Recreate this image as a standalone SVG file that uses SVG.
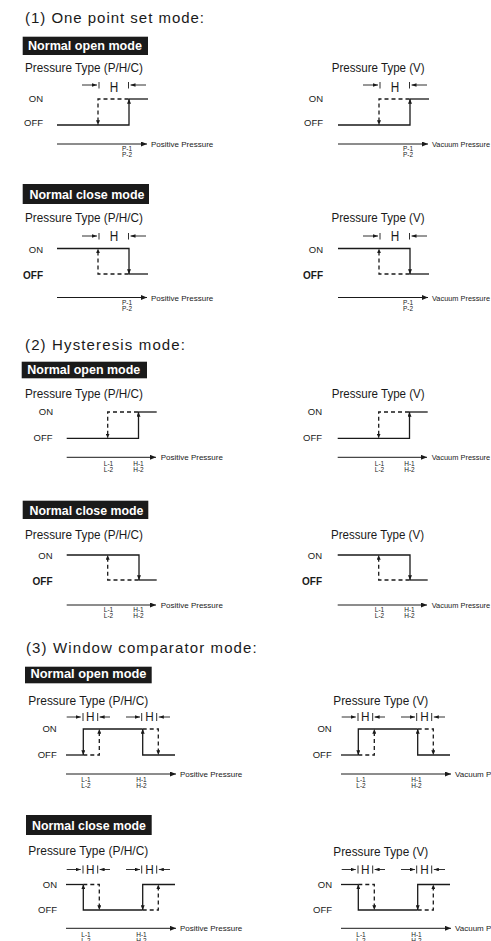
<svg xmlns="http://www.w3.org/2000/svg" width="491" height="941" viewBox="0 0 491 941">
<defs>
<style>
text{font-family:"Liberation Sans",Arial,Helvetica,sans-serif;fill:#1a1a1a}
.ttl{font-size:15px}
.hdr{font-size:13px;font-weight:bold;fill:#fff}
.box{fill:#1a1a1a}
.pt{font-size:13.5px}
.st{font-size:9.5px;text-anchor:end}
.stb{font-weight:bold;font-size:10px}
.hl{font-size:14px;text-anchor:middle}
.hs{font-size:12.5px;text-anchor:middle}
.axl{font-size:8px}
.axv{font-size:7.4px}
.tk{font-size:6.5px;text-anchor:middle}
.sig{stroke:#1a1a1a;stroke-width:1.3;fill:none}
.dash{stroke-dasharray:4 3}
.ax{stroke:#1a1a1a;stroke-width:1;fill:none}
.dim{stroke:#1a1a1a;stroke-width:0.9;fill:none}
</style>
<marker id="ta" viewBox="0 0 6 5" refX="6" refY="2.5" markerWidth="4.8" markerHeight="4" markerUnits="userSpaceOnUse" orient="auto"><path d="M0,0L6,2.5L0,5z" fill="#1a1a1a"/></marker>
<marker id="aa" viewBox="0 0 6 5" refX="6" refY="2.5" markerWidth="6" markerHeight="5" markerUnits="userSpaceOnUse" orient="auto"><path d="M0,0L6,2.5L0,5z" fill="#1a1a1a"/></marker>
<marker id="da" viewBox="0 0 7 5" refX="7" refY="2.5" markerWidth="5" markerHeight="3.6" markerUnits="userSpaceOnUse" orient="auto"><path d="M0,0L7,2.5L0,5z" fill="#1a1a1a"/></marker>
</defs>
<rect width="491" height="941" fill="#fff"/>

<!-- Section 1 -->
<g id="title-1"><text class="ttl" x="25" y="22.5" textLength="179" lengthAdjust="spacing">(1) One point set mode:</text></g>

<g id="s1-no-header"><rect class="box" x="22.7" y="36.7" width="125.3" height="18.3"/><text class="hdr" x="28" y="50" textLength="114" lengthAdjust="spacingAndGlyphs">Normal open mode</text></g>
<g id="s1-no-ppc">
<text class="pt" x="25" y="72" textLength="118" lengthAdjust="spacingAndGlyphs">Pressure Type (P/H/C)</text>
<g id="s1-no-ppc-chart">
<text class="st" x="43" y="101.5">ON</text><text class="st" x="43" y="126">OFF</text>
<path class="dim" d="M82,85H97" marker-end="url(#da)"/><path class="dim" d="M146,85H130.5" marker-end="url(#da)"/>
<path class="dim" d="M99,82V88.5M128.5,82V88.5"/>
<text class="hl" x="114" y="92" textLength="8.5" lengthAdjust="spacingAndGlyphs">H</text>
<path class="sig dash" d="M128.5,99H98V125" marker-end="url(#ta)"/>
<path class="sig" d="M128.5,99H148"/>
<path class="sig" d="M57,125H129V99" marker-end="url(#ta)"/>
<path class="ax" d="M57,144H147" marker-end="url(#aa)"/>
<text class="axl" x="151" y="147">Positive  Pressure</text>
<text class="tk" x="127" y="150.5">P-1</text><text class="tk" x="127" y="157">P-2</text>
</g></g>
<g id="s1-no-v">
<text class="pt" x="331.7" y="72" textLength="93" lengthAdjust="spacingAndGlyphs">Pressure Type (V)</text>
<g transform="translate(281,0)">
<text class="st" x="42" y="101.5">ON</text><text class="st" x="42" y="126">OFF</text>
<path class="dim" d="M82,85H97" marker-end="url(#da)"/><path class="dim" d="M146,85H130.5" marker-end="url(#da)"/>
<path class="dim" d="M99,82V88.5M128.5,82V88.5"/>
<text class="hl" x="114" y="92" textLength="8.5" lengthAdjust="spacingAndGlyphs">H</text>
<path class="sig dash" d="M128.5,99H98V125" marker-end="url(#ta)"/>
<path class="sig" d="M128.5,99H148"/>
<path class="sig" d="M57,125H129V99" marker-end="url(#ta)"/>
<path class="ax" d="M57,144H147" marker-end="url(#aa)"/>
<text class="axv" x="151" y="147" textLength="58" lengthAdjust="spacingAndGlyphs">Vacuum Pressure</text>
<text class="tk" x="127" y="150.5">P-1</text><text class="tk" x="127" y="157">P-2</text>
</g></g>

<g id="s1-nc-header"><rect class="box" x="22.7" y="184" width="126.3" height="20"/><text class="hdr" x="29.5" y="199" textLength="115" lengthAdjust="spacingAndGlyphs">Normal close mode</text></g>
<g id="s1-nc-ppc">
<text class="pt" x="25" y="222" textLength="118" lengthAdjust="spacingAndGlyphs">Pressure Type (P/H/C)</text>
<g>
<text class="st" x="43" y="252.5">ON</text><text class="st stb" x="43" y="279">OFF</text>
<path class="dim" d="M82,236H97" marker-end="url(#da)"/><path class="dim" d="M146,236H130.5" marker-end="url(#da)"/>
<path class="dim" d="M99,233V239.5M128.5,233V239.5"/>
<text class="hl" x="114" y="241" textLength="8.5" lengthAdjust="spacingAndGlyphs">H</text>
<path class="sig" d="M57,248.5H129V274" marker-end="url(#ta)"/>
<path class="sig dash" d="M128.5,274H98V248.5" marker-end="url(#ta)"/>
<path class="sig" d="M128.5,274H148"/>
<path class="ax" d="M57,297.5H147" marker-end="url(#aa)"/>
<text class="axl" x="151" y="300.5">Positive  Pressure</text>
<text class="tk" x="127" y="304.5">P-1</text><text class="tk" x="127" y="311">P-2</text>
</g></g>
<g id="s1-nc-v">
<text class="pt" x="331.5" y="222" textLength="93" lengthAdjust="spacingAndGlyphs">Pressure Type (V)</text>
<g transform="translate(281,0)">
<text class="st" x="42" y="252.5">ON</text><text class="st stb" x="42" y="279">OFF</text>
<path class="dim" d="M82,236H97" marker-end="url(#da)"/><path class="dim" d="M146,236H130.5" marker-end="url(#da)"/>
<path class="dim" d="M99,233V239.5M128.5,233V239.5"/>
<text class="hl" x="114" y="241" textLength="8.5" lengthAdjust="spacingAndGlyphs">H</text>
<path class="sig" d="M57,248.5H129V274" marker-end="url(#ta)"/>
<path class="sig dash" d="M128.5,274H98V248.5" marker-end="url(#ta)"/>
<path class="sig" d="M128.5,274H148"/>
<path class="ax" d="M57,297.5H147" marker-end="url(#aa)"/>
<text class="axv" x="151" y="300.5" textLength="58" lengthAdjust="spacingAndGlyphs">Vacuum Pressure</text>
<text class="tk" x="127" y="304.5">P-1</text><text class="tk" x="127" y="311">P-2</text>
</g></g>

<!-- Section 2 -->
<g id="title-2"><text class="ttl" x="25" y="350" textLength="160" lengthAdjust="spacing">(2) Hysteresis mode:</text></g>

<g id="s2-no-header"><rect class="box" x="21.7" y="361.7" width="125.3" height="16.6"/><text class="hdr" x="27.3" y="374" textLength="113" lengthAdjust="spacingAndGlyphs">Normal open mode</text></g>
<g id="s2-no-ppc">
<text class="pt" x="25" y="398.3" textLength="118" lengthAdjust="spacingAndGlyphs">Pressure Type (P/H/C)</text>
<g>
<text class="st" x="53" y="414.5">ON</text><text class="st" x="52.5" y="440.5">OFF</text>
<path class="sig dash" d="M138,412H107.7V438.3" marker-end="url(#ta)"/>
<path class="sig" d="M138,412H156.7"/>
<path class="sig" d="M66.7,438.3H138.5V412" marker-end="url(#ta)"/>
<path class="ax" d="M66.7,457.3H156" marker-end="url(#aa)"/>
<text class="axl" x="160.7" y="460.3">Positive  Pressure</text>
<text class="tk" x="108.5" y="465.5">L-1</text><text class="tk" x="108.5" y="472">L-2</text>
<text class="tk" x="138.5" y="465.5">H-1</text><text class="tk" x="138.5" y="472">H-2</text>
</g></g>
<g id="s2-no-v">
<text class="pt" x="331.7" y="398.3" textLength="93" lengthAdjust="spacingAndGlyphs">Pressure Type (V)</text>
<g transform="translate(271,0)">
<text class="st" x="51" y="414.5">ON</text><text class="st" x="51" y="440.5">OFF</text>
<path class="sig dash" d="M138,412H107.7V438.3" marker-end="url(#ta)"/>
<path class="sig" d="M138,412H156.7"/>
<path class="sig" d="M66.7,438.3H138.5V412" marker-end="url(#ta)"/>
<path class="ax" d="M66.7,457.3H156" marker-end="url(#aa)"/>
<text class="axv" x="160.7" y="460.3" textLength="58.5" lengthAdjust="spacingAndGlyphs">Vacuum Pressure</text>
<text class="tk" x="108.5" y="465.5">L-1</text><text class="tk" x="108.5" y="472">L-2</text>
<text class="tk" x="138.5" y="465.5">H-1</text><text class="tk" x="138.5" y="472">H-2</text>
</g></g>

<g id="s2-nc-header"><rect class="box" x="22.7" y="500.7" width="125.6" height="18.3"/><text class="hdr" x="29.5" y="515" textLength="114" lengthAdjust="spacingAndGlyphs">Normal close mode</text></g>
<g id="s2-nc-ppc">
<text class="pt" x="25" y="539.3" textLength="118" lengthAdjust="spacingAndGlyphs">Pressure Type (P/H/C)</text>
<g>
<text class="st" x="52.5" y="559">ON</text><text class="st stb" x="52.5" y="585">OFF</text>
<path class="sig" d="M66.7,555H139V580" marker-end="url(#ta)"/>
<path class="sig dash" d="M138.5,580H107.7V555" marker-end="url(#ta)"/>
<path class="sig" d="M138.5,580H156.7"/>
<path class="ax" d="M66.7,605H156" marker-end="url(#aa)"/>
<text class="axl" x="160.7" y="608">Positive  Pressure</text>
<text class="tk" x="108.5" y="611.5">L-1</text><text class="tk" x="108.5" y="618">L-2</text>
<text class="tk" x="138.5" y="611.5">H-1</text><text class="tk" x="138.5" y="618">H-2</text>
</g></g>
<g id="s2-nc-v">
<text class="pt" x="331" y="539.3" textLength="93" lengthAdjust="spacingAndGlyphs">Pressure Type (V)</text>
<g transform="translate(271,0)">
<text class="st" x="51" y="559">ON</text><text class="st stb" x="51" y="585">OFF</text>
<path class="sig" d="M66.7,555H139V580" marker-end="url(#ta)"/>
<path class="sig dash" d="M138.5,580H107.7V555" marker-end="url(#ta)"/>
<path class="sig" d="M138.5,580H156.7"/>
<path class="ax" d="M66.7,605H156" marker-end="url(#aa)"/>
<text class="axv" x="160.7" y="608" textLength="58.5" lengthAdjust="spacingAndGlyphs">Vacuum Pressure</text>
<text class="tk" x="108.5" y="611.5">L-1</text><text class="tk" x="108.5" y="618">L-2</text>
<text class="tk" x="138.5" y="611.5">H-1</text><text class="tk" x="138.5" y="618">H-2</text>
</g></g>

<!-- Section 3 -->
<g id="title-3"><text class="ttl" x="26" y="653.3" textLength="230.7" lengthAdjust="spacing">(3) Window comparator mode:</text></g>

<g id="s3-no-header"><rect class="box" x="25" y="666.7" width="126.7" height="16.6"/><text class="hdr" x="30.5" y="678.3" textLength="116" lengthAdjust="spacingAndGlyphs">Normal open mode</text></g>
<g id="s3-no-ppc">
<text class="pt" x="28.3" y="705" textLength="120" lengthAdjust="spacingAndGlyphs">Pressure Type (P/H/C)</text>
<g>
<text class="st" x="56.7" y="731.7">ON</text><text class="st" x="56.7" y="757.7">OFF</text>
<path class="dim" d="M66.7,717H80.8" marker-end="url(#da)"/><path class="dim" d="M110,717H99.6" marker-end="url(#da)"/>
<path class="dim" d="M126,717H140" marker-end="url(#da)"/><path class="dim" d="M170,717H158.8" marker-end="url(#da)"/>
<path class="dim" d="M83,713V721M97.7,713V721M141.7,713V721M156.7,713V721"/>
<text class="hs" x="90.3" y="721.3" textLength="8.5" lengthAdjust="spacingAndGlyphs">H</text>
<text class="hs" x="149.5" y="721.3" textLength="8.5" lengthAdjust="spacingAndGlyphs">H</text>
<path class="sig" d="M66,755H83.3"/>
<path class="sig" d="M142.7,729H83.3V755" marker-end="url(#ta)"/>
<path class="sig dash" d="M83.3,755H99.3V729" marker-end="url(#ta)"/>
<path class="sig" d="M175,755H142.7V729" marker-end="url(#ta)"/>
<path class="sig dash" d="M142.7,729H158.3V755" marker-end="url(#ta)"/>
<path class="ax" d="M66,774H176" marker-end="url(#aa)"/>
<text class="axl" x="180" y="777">Positive  Pressure</text>
<text class="tk" x="86" y="781.5">L-1</text><text class="tk" x="86" y="787.5">L-2</text>
<text class="tk" x="141.5" y="781.5">H-1</text><text class="tk" x="141.5" y="787.5">H-2</text>
</g></g>
<g id="s3-no-v">
<text class="pt" x="333.3" y="705" textLength="95" lengthAdjust="spacingAndGlyphs">Pressure Type (V)</text>
<g transform="translate(275,0)">
<text class="st" x="56.7" y="731.7">ON</text><text class="st" x="56.7" y="757.7">OFF</text>
<path class="dim" d="M66.7,717H80.8" marker-end="url(#da)"/><path class="dim" d="M110,717H99.6" marker-end="url(#da)"/>
<path class="dim" d="M126,717H140" marker-end="url(#da)"/><path class="dim" d="M170,717H158.8" marker-end="url(#da)"/>
<path class="dim" d="M83,713V721M97.7,713V721M141.7,713V721M156.7,713V721"/>
<text class="hs" x="90.3" y="721.3" textLength="8.5" lengthAdjust="spacingAndGlyphs">H</text>
<text class="hs" x="149.5" y="721.3" textLength="8.5" lengthAdjust="spacingAndGlyphs">H</text>
<path class="sig" d="M66,755H83.3"/>
<path class="sig" d="M142.7,729H83.3V755" marker-end="url(#ta)"/>
<path class="sig dash" d="M83.3,755H99.3V729" marker-end="url(#ta)"/>
<path class="sig" d="M175,755H142.7V729" marker-end="url(#ta)"/>
<path class="sig dash" d="M142.7,729H158.3V755" marker-end="url(#ta)"/>
<path class="ax" d="M66,774H176" marker-end="url(#aa)"/>
<text class="axl" x="180" y="777">Vacuum Pressure</text>
<text class="tk" x="86" y="781.5">L-1</text><text class="tk" x="86" y="787.5">L-2</text>
<text class="tk" x="141.5" y="781.5">H-1</text><text class="tk" x="141.5" y="787.5">H-2</text>
</g></g>

<g id="s3-nc-header"><rect class="box" x="26" y="815" width="125.7" height="20"/><text class="hdr" x="32" y="829.5" textLength="114" lengthAdjust="spacingAndGlyphs">Normal close mode</text></g>
<g id="s3-nc-ppc">
<text class="pt" x="28.3" y="855" textLength="120" lengthAdjust="spacingAndGlyphs">Pressure Type (P/H/C)</text>
<g>
<text class="st" x="57" y="888">ON</text><text class="st" x="57" y="912.5">OFF</text>
<path class="dim" d="M66.7,869.5H80.8" marker-end="url(#da)"/><path class="dim" d="M110,869.5H99.6" marker-end="url(#da)"/>
<path class="dim" d="M126,869.5H140" marker-end="url(#da)"/><path class="dim" d="M170,869.5H158.8" marker-end="url(#da)"/>
<path class="dim" d="M83,865.5V873.5M97.7,865.5V873.5M141.7,865.5V873.5M156.7,865.5V873.5"/>
<text class="hs" x="90.3" y="873.8" textLength="8.5" lengthAdjust="spacingAndGlyphs">H</text>
<text class="hs" x="149.5" y="873.8" textLength="8.5" lengthAdjust="spacingAndGlyphs">H</text>
<path class="sig" d="M66,884.5H83.3"/>
<path class="sig" d="M142.7,910H83.3V884.5" marker-end="url(#ta)"/>
<path class="sig dash" d="M83.3,884.5H99.3V910" marker-end="url(#ta)"/>
<path class="sig" d="M175,884.5H142.7V910" marker-end="url(#ta)"/>
<path class="sig dash" d="M142.7,910H158.3V884.5" marker-end="url(#ta)"/>
<path class="ax" d="M66,928.3H176" marker-end="url(#aa)"/>
<text class="axl" x="180" y="931.3">Positive  Pressure</text>
<text class="tk" x="86" y="936.5">L-1</text><text class="tk" x="86" y="943">L-2</text>
<text class="tk" x="141.5" y="936.5">H-1</text><text class="tk" x="141.5" y="943">H-2</text>
</g></g>
<g id="s3-nc-v">
<text class="pt" x="333.3" y="855.5" textLength="95" lengthAdjust="spacingAndGlyphs">Pressure Type (V)</text>
<g transform="translate(275,0)">
<text class="st" x="57" y="888">ON</text><text class="st" x="57" y="912.5">OFF</text>
<path class="dim" d="M66.7,869.5H80.8" marker-end="url(#da)"/><path class="dim" d="M110,869.5H99.6" marker-end="url(#da)"/>
<path class="dim" d="M126,869.5H140" marker-end="url(#da)"/><path class="dim" d="M170,869.5H158.8" marker-end="url(#da)"/>
<path class="dim" d="M83,865.5V873.5M97.7,865.5V873.5M141.7,865.5V873.5M156.7,865.5V873.5"/>
<text class="hs" x="90.3" y="873.8" textLength="8.5" lengthAdjust="spacingAndGlyphs">H</text>
<text class="hs" x="149.5" y="873.8" textLength="8.5" lengthAdjust="spacingAndGlyphs">H</text>
<path class="sig" d="M66,884.5H83.3"/>
<path class="sig" d="M142.7,910H83.3V884.5" marker-end="url(#ta)"/>
<path class="sig dash" d="M83.3,884.5H99.3V910" marker-end="url(#ta)"/>
<path class="sig" d="M175,884.5H142.7V910" marker-end="url(#ta)"/>
<path class="sig dash" d="M142.7,910H158.3V884.5" marker-end="url(#ta)"/>
<path class="ax" d="M66,928.3H176" marker-end="url(#aa)"/>
<text class="axl" x="180" y="931.3">Vacuum Pressure</text>
<text class="tk" x="86" y="936.5">L-1</text><text class="tk" x="86" y="943">L-2</text>
<text class="tk" x="141.5" y="936.5">H-1</text><text class="tk" x="141.5" y="943">H-2</text>
</g></g>
</svg>
